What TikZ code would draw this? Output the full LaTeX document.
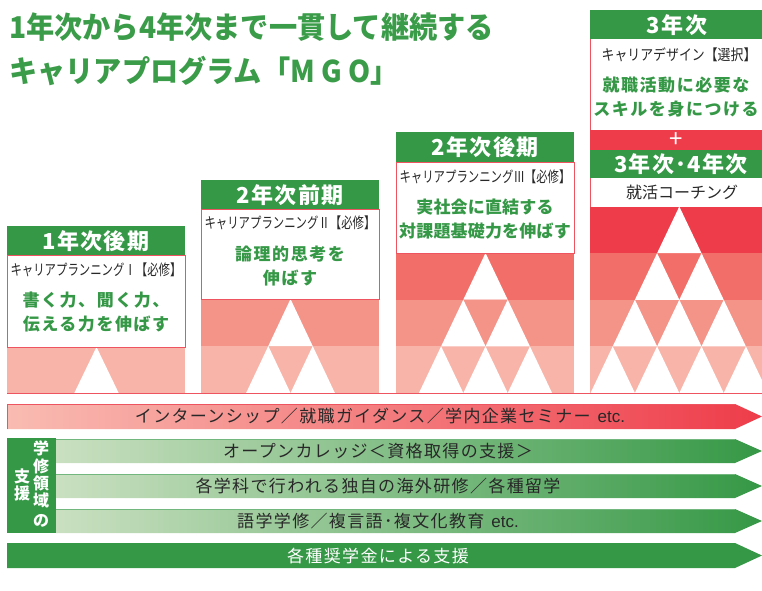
\documentclass[tikz,border=0pt]{standalone}
\usepackage{fontspec}
\setmainfont{Noto Sans CJK JP}
\newfontfamily\jp{Noto Sans CJK JP}
\newfontfamily\lat{Liberation Sans}
\usetikzlibrary{calc}
\definecolor{mgreen}{RGB}{53,152,70}
\definecolor{tgreen}{RGB}{58,155,72}
\definecolor{lgreen}{RGB}{202,224,193}
\definecolor{r1}{RGB}{248,180,168}
\definecolor{r2}{RGB}{244,147,135}
\definecolor{r3}{RGB}{242,110,104}
\definecolor{r4}{RGB}{238,60,74}
\definecolor{rlight}{RGB}{249,188,178}
\definecolor{edge}{RGB}{238,84,96}
\definecolor{txt}{RGB}{40,40,40}
\newcommand\mypyr[5]{%
  \pgfmathsetmacro\rh{(393-#4)/#5}%
  \pgfmathtruncatemacro\nn{#5-1}%
  \begin{scope}
    \clip (#1,#4) rectangle (#2,393);
    \foreach \i in {1,...,#5} {
      \pgfmathtruncatemacro\ci{#5-\i+1}
      \fill[r\ci] (#1,{#4+(\i-1)*\rh}) rectangle (#2,{#4+\i*\rh});
    }
    \foreach \i in {0,...,\nn} {
      \foreach \j in {0,...,\i} {
        \fill[white] ({#3+(2*\j-\i)*22.2},{#4+\i*\rh}) -- ++(-22.2,\rh) -- ++(44.4,0) -- cycle;
      }
    }
  \end{scope}}
\newcommand\etcx{\hspace{7pt}{\lat etc.}}
\tikzset{
  hdrtxt/.style={text=white, inner sep=0, font=\jp\bfseries\fontsize{22}{22}\selectfont\addfontfeature{LetterSpace=6}},
  subtxt/.style={text=txt, inner sep=0, font=\jp\fontsize{15}{15}\selectfont},
  grtxt/.style={text=mgreen, inner sep=0, align=center, font=\jp\bfseries\fontsize{17}{23.5}\selectfont\addfontfeature{LetterSpace=9}},
  bartxt/.style={text=txt, inner sep=0, font=\jp\fontsize{17}{17}\selectfont\addfontfeature{LetterSpace=8}},
  ttl/.style={text=tgreen, anchor=west, inner sep=0, font=\jp\bfseries\fontsize{30}{30}\selectfont},
  vtxt/.style={text=white, inner sep=0, font=\jp\bfseries\fontsize{16}{16}\selectfont},
  boxline/.style={draw=edge, line width=0.8pt}
}
\begin{document}
\begin{tikzpicture}[x=1pt,y=-1pt]
\useasboundingbox (0,0) rectangle (762,590);
% title
\node[ttl] (t1) at (9,27) {\scalebox{0.94}[1]{1年次から4年次まで一貫して継続する}};
\node[ttl] (t2) at (9,71) {\scalebox{0.94}[1]{キャリアプログラム「{\addfontfeature{LetterSpace=22}MGO}」}};

% column 1
\mypyr{7}{185}{96.5}{347}{1}
\fill[mgreen] (7,226) rectangle (185,255);
\filldraw[boxline, fill=white] (7,255) rectangle (185,347);
\node[hdrtxt] (h1) at (96,241) {1年次後期};
\node[subtxt] (s1) at (96,270) {\scalebox{0.76}[1]{キャリアプランニングⅠ【必修】}};
\node[grtxt] (g1) at (96,312) {書く力、聞く力、\\伝える力を伸ばす};

% column 2
\mypyr{201}{379}{290.5}{299}{2}
\fill[mgreen] (201,180) rectangle (379,209);
\filldraw[boxline, fill=white] (201,209) rectangle (379,299);
\node[hdrtxt] (h2) at (290,195) {2年次前期};
\node[subtxt] (s2) at (290,223) {\scalebox{0.76}[1]{キャリアプランニングⅡ【必修】}};
\node[grtxt] (g2) at (290,266) {論理的思考を\\伸ばす};

% column 3
\mypyr{396}{574}{485.5}{253}{3}
\fill[mgreen] (396,132) rectangle (574,162);
\filldraw[boxline, fill=white] (396,162) rectangle (574,253);
\node[hdrtxt] (h3) at (485,147) {2年次後期};
\node[subtxt] (s3) at (485,177) {\scalebox{0.76}[1]{キャリアプランニングⅢ【必修】}};
\node[grtxt, font=\jp\bfseries\fontsize{17}{23.5}\selectfont\addfontfeature{LetterSpace=1}] (g3) at (485,219) {実社会に直結する\\対課題基礎力を伸ばす};

% column 4
\mypyr{590}{762}{679.3}{206.5}{4}
\fill[mgreen] (590,10) rectangle (762,39);
\fill[white] (590,39) rectangle (762,130);
\draw[boxline] (590,39) -- (590,130);
\fill[r4] (590,130) rectangle (762,150);
\fill[mgreen] (590,150) rectangle (762,178);
\fill[white] (590,178) rectangle (762,206.5);
\draw[boxline] (590,178) -- (590,206.5);
\node[hdrtxt] (h4) at (677,25) {3年次};
\node[subtxt] (s4) at (679,55) {\scalebox{0.86}[1]{キャリアデザイン【選択】}};
\node[grtxt] (g4) at (676,97) {就職活動に必要な\\スキルを身につける};
\node[text=white, inner sep=0, font=\jp\fontsize{24}{24}\selectfont] (plus) at (676,140) {+};
\node[hdrtxt] (h5) at (681,164) {3年次･4年次};
\node[subtxt, font=\jp\fontsize{16}{16}\selectfont] (s5) at (682,192) {就活コーチング};

% baseline
\draw[edge, line width=1pt] (7,393) -- (762,393);

% bar 1
\shade[left color=rlight, right color=r4] (7,404) -- (735,404) -- (762,416.5) -- (735,429) -- (7,429) -- cycle;
\draw[edge, line width=0.6pt] (7,429) -- (7,404) -- (735,404);
\node[bartxt] (b1) at (380,416.5) {インターンシップ／就職ガイダンス／学内企業セミナー\etcx};

% left label
\fill[mgreen] (7,438) rectangle (56,533);
\node[vtxt] (v1) at (41,448) {学};
\node[vtxt] (v2) at (41,466) {修};
\node[vtxt] (v3) at (41,483) {領};
\node[vtxt] (v4) at (41,500) {域};
\node[vtxt] (v5) at (41,521) {の};
\node[vtxt] (v6) at (22,476) {支};
\node[vtxt] (v7) at (22,493) {援};

% green bars
\foreach \yt in {439,474,509} {
  \shade[left color=lgreen, right color=mgreen] (56,\yt) -- (735,\yt) -- ($(762,\yt)+(0,12)$) -- ($(735,\yt)+(0,24)$) -- ($(56,\yt)+(0,24)$) -- cycle;
  \draw[mgreen!70, line width=0.5pt] (56,\yt) -- (735,\yt);
}
\node[bartxt] (b2) at (378,451) {オープンカレッジ＜資格取得の支援＞};
\node[bartxt] (b3) at (378,486) {各学科で行われる独自の海外研修／各種留学};
\node[bartxt] (b4) at (378,521) {語学学修／複言語･複文化教育\etcx};

% bar 5
\fill[mgreen] (7,543) -- (735,543) -- (762,555.5) -- (735,568) -- (7,568) -- cycle;
\node[bartxt, text=white] (b5) at (378,555.5) {各種奨学金による支援};
\end{tikzpicture}
\end{document}
